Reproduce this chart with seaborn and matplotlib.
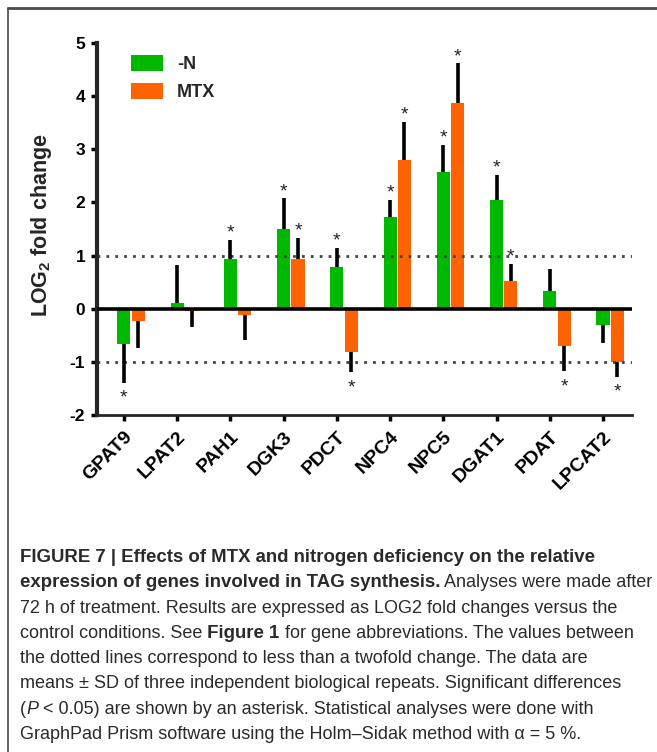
import numpy as np
import pandas as pd
import seaborn as sns
import matplotlib.pyplot as plt
from matplotlib.patches import Patch
from matplotlib.lines import Line2D

#%% data
genes = ["GPAT9", "LPAT2", "PAH1", "DGK3", "PDCT", "NPC4", "NPC5", "DGAT1", "PDAT", "LPCAT2"]
groups = ["-N", "MTX"]
n_mean = [-0.67, 0.11, 0.93, 1.50, 0.78, 1.72, 2.58, 2.04, 0.33, -0.31]
n_sd = [0.72, 0.72, 0.37, 0.58, 0.37, 0.33, 0.51, 0.48, 0.42, 0.33]
mtx_mean = [-0.23, -0.05, -0.12, 0.93, -0.81, 2.79, 3.88, 0.53, -0.70, -1.01]
mtx_sd = [0.50, 0.29, 0.46, 0.41, 0.38, 0.73, 0.74, 0.32, 0.47, 0.27]
n_sig = [1, 0, 1, 1, 1, 1, 1, 1, 0, 0]
mtx_sig = [0, 0, 0, 1, 1, 1, 1, 1, 1, 1]
colors = {"-N": "#00B800", "MTX": "#FF6200"}

caption = [
    [("FIGURE 7 | Effects of MTX and nitrogen deficiency on the relative", "bold", "normal")],
    [("expression of genes involved in TAG synthesis.", "bold", "normal"),
     (" Analyses were made after", "normal", "normal")],
    [("72 h of treatment. Results are expressed as LOG2 fold changes versus the", "normal", "normal")],
    [("control conditions. See", "normal", "normal"), (" Figure 1", "bold", "normal"),
     (" for gene abbreviations. The values between", "normal", "normal")],
    [("the dotted lines correspond to less than a twofold change. The data are", "normal", "normal")],
    [("means \u00b1 SD of three independent biological repeats. Significant differences", "normal", "normal")],
    [("(", "normal", "normal"), ("P", "normal", "italic"),
     (" < 0.05) are shown by an asterisk. Statistical analyses were done with", "normal", "normal")],
    [("GraphPad Prism software using the Holm\u2013Sidak method with \u03b1 = 5 %.", "normal", "normal")],
]

df = pd.DataFrame({
    "gene": genes * 2,
    "group": ["-N"] * len(genes) + ["MTX"] * len(genes),
    "value": n_mean + mtx_mean,
    "sd": n_sd + mtx_sd,
    "sig": n_sig + mtx_sig,
})

#%%
sns.set_theme(style="ticks")
plt.rcParams["font.family"] = ["Liberation Sans", "DejaVu Sans"]
plt.rcParams["axes.unicode_minus"] = False
plt.rcParams["mathtext.fontset"] = "custom"
plt.rcParams["mathtext.bf"] = "Liberation Sans:bold"
plt.rcParams["mathtext.rm"] = "Liberation Sans:bold"

fig = plt.figure(figsize=(6.57, 7.52), dpi=100)
ax = fig.add_axes([0.1476, 0.4481, 0.8143, 0.4947])

sns.barplot(data=df, x="gene", y="value", hue="group", order=genes, hue_order=groups,
            palette=colors, width=0.54, gap=0.09, errorbar=None, legend=False,
            saturation=1, linewidth=0, ax=ax)

# one-sided SD bars + asterisks
for cont, g in zip(ax.containers, groups):
    sub = df[df.group == g].set_index("gene").loc[genes]
    for bar, (v, sd, sig) in zip(cont, sub[["value", "sd", "sig"]].values):
        x = bar.get_x() + bar.get_width() / 2
        tip = v + sd if v >= 0 else v - sd
        ax.vlines(x, v, tip, color="black", lw=2.6, zorder=3)
        if sig:
            ax.annotate("*", (x, tip), xytext=(0, 1.5 if v >= 0 else -14.5),
                        textcoords="offset points", ha="center", va="baseline",
                        fontsize=14, color="#222222")

ax.axhline(0, color="black", lw=2.6, zorder=4)
for yy in (1, -1):
    ax.axhline(yy, color="#444444", lw=2, ls=(0, (1, 2.2)), zorder=1)

ticks = [b.get_x() + b.get_width() / 2 for b in ax.containers[0]]
ax.set_xticks(ticks)
ax.set_xticklabels(genes, rotation=45, ha="right", va="top", rotation_mode="anchor",
                   fontsize=14, fontweight="bold")
ax.set_xlim(ticks[0] - 0.507, ticks[-1] + 0.545)
ax.set_ylim(-2, 5)
ax.set_yticks(range(-2, 6))
ax.set_yticklabels([str(t) for t in range(-2, 6)], fontsize=12.5, fontweight="bold")
ax.set_xlabel("")
ax.set_ylabel(r"LOG$_\mathbf{2}$ fold change", fontsize=15.5, fontweight="bold")
ax.yaxis.set_label_coords(-0.08, 0.51)

sns.despine(ax=ax)
ax.spines["left"].set_linewidth(3)
ax.spines["bottom"].set_linewidth(2)
ax.tick_params(axis="y", direction="out", length=4.5, width=2.5, pad=4, colors="black")
ax.tick_params(axis="x", direction="out", length=4.5, width=2.5, pad=5, colors="black")

handles = [Patch(facecolor=colors[g], edgecolor="none", label=g) for g in groups]
ax.legend(handles=handles, loc="upper left", bbox_to_anchor=(0.0636, 0.968), frameon=False,
          prop={"weight": "bold", "size": 13}, handlelength=1.75, handleheight=1.0,
          handletextpad=0.8, labelspacing=0.55, borderpad=0, borderaxespad=0)

#%% caption
y0 = 562
for i, runs in enumerate(caption):
    y = 1 - (y0 + i * 25.3) / 752
    prev = None
    for s, w, st in runs:
        kw = dict(fontsize=13.4 if w == "bold" else 13.0, fontweight=w, fontstyle=st,
                  color="#2a2a2a", family=["Liberation Sans", "DejaVu Sans"])
        if prev is None:
            prev = fig.text(20 / 657, y, s, ha="left", va="baseline", **kw)
        else:
            prev = ax.annotate(s, xy=(1, 0), xycoords=prev, ha="left", va="bottom",
                               annotation_clip=False, **kw)

# frame (top and left edges only)
fig.add_artist(Line2D([8 / 657, 1], [1 - 8 / 752] * 2, transform=fig.transFigure,
                      color="#4a4a4a", lw=2))
fig.add_artist(Line2D([8 / 657] * 2, [0, 1 - 8 / 752], transform=fig.transFigure,
                      color="#4a4a4a", lw=1.2))

fig.savefig("out.png", dpi=100)
